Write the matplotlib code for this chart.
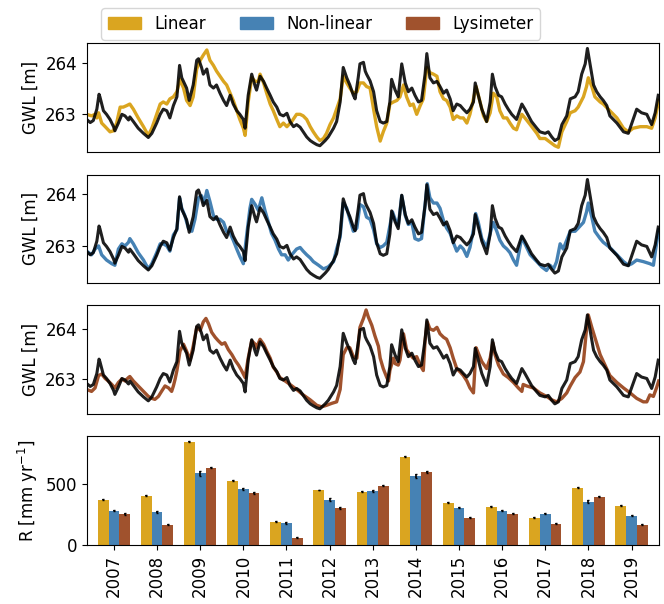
import numpy as np
import matplotlib
matplotlib.use("Agg")
import matplotlib.pyplot as plt
from matplotlib.patches import Patch

plt.rcParams["font.size"] = 12

# observed groundwater level (decimal year, m)
obs_t = [2007.00, 2007.08, 2007.15, 2007.23, 2007.28, 2007.30, 2007.38, 2007.45, 2007.53, 2007.61,
         2007.64, 2007.72, 2007.80, 2007.87, 2007.95, 2007.98, 2008.06, 2008.17, 2008.29, 2008.40,
         2008.48, 2008.59, 2008.67, 2008.74, 2008.82, 2008.89, 2008.97, 2009.05, 2009.11, 2009.16,
         2009.27, 2009.33, 2009.42, 2009.50, 2009.54, 2009.61, 2009.65, 2009.73, 2009.80, 2009.88,
         2009.95, 2010.03, 2010.11, 2010.18, 2010.26, 2010.33, 2010.41, 2010.48, 2010.56, 2010.60,
         2010.67, 2010.75, 2010.83, 2010.86, 2010.94, 2011.02, 2011.09, 2011.17, 2011.24, 2011.32,
         2011.39, 2011.47, 2011.55, 2011.62, 2011.70, 2011.77, 2011.85, 2011.92, 2012.00, 2012.08,
         2012.15, 2012.23, 2012.30, 2012.42, 2012.49, 2012.61, 2012.68, 2012.76, 2012.83, 2012.91,
         2012.98, 2013.06, 2013.10, 2013.17, 2013.21, 2013.29, 2013.33, 2013.36, 2013.44, 2013.52,
         2013.59, 2013.67, 2013.74, 2013.82, 2013.89, 2013.93, 2014.01, 2014.08, 2014.16, 2014.24,
         2014.31, 2014.39, 2014.46, 2014.54, 2014.61, 2014.69, 2014.73, 2014.80, 2014.88, 2014.96,
         2015.03, 2015.11, 2015.18, 2015.26, 2015.33, 2015.41, 2015.49, 2015.56, 2015.64, 2015.71,
         2015.79, 2015.83, 2015.90, 2015.98, 2016.09, 2016.17, 2016.22, 2016.28, 2016.36, 2016.43,
         2016.51, 2016.58, 2016.66, 2016.77, 2016.89, 2016.96, 2017.04, 2017.11, 2017.23, 2017.30,
         2017.42, 2017.49, 2017.57, 2017.64, 2017.72, 2017.80, 2017.91, 2017.99, 2018.10, 2018.17,
         2018.25, 2018.33, 2018.38, 2018.44, 2018.52, 2018.59, 2018.67, 2018.74, 2018.82, 2018.89,
         2019.05, 2019.20, 2019.31, 2019.42, 2019.50, 2019.61, 2019.73, 2019.84, 2019.92, 2019.99]
obs_h = [262.90, 262.84, 262.88, 263.10, 263.39, 263.34, 263.07, 263.00, 262.90, 262.76,
         262.68, 262.83, 263.00, 262.97, 262.89, 262.95, 262.86, 262.73, 262.63, 262.55,
         262.63, 262.83, 263.00, 263.10, 263.07, 262.93, 263.17, 263.34, 263.95, 263.71,
         263.51, 263.27, 263.57, 264.05, 264.08, 263.91, 263.78, 263.88, 263.57, 263.51,
         263.57, 263.41, 263.27, 263.17, 263.37, 263.20, 263.07, 263.00, 262.90, 262.73,
         263.37, 263.78, 263.54, 263.47, 263.74, 263.64, 263.51, 263.37, 263.24, 263.14,
         263.00, 262.97, 263.02, 262.86, 262.76, 262.80, 262.75, 262.66, 262.56, 262.49,
         262.45, 262.41, 262.39, 262.49, 262.56, 262.73, 262.86, 263.24, 263.91, 263.71,
         263.57, 263.37, 263.30, 263.71, 263.98, 264.01, 263.84, 263.78, 263.65, 263.44,
         263.07, 262.86, 262.83, 262.86, 263.24, 263.68, 263.47, 263.34, 263.98, 263.61,
         263.44, 263.51, 263.37, 263.24, 263.27, 263.78, 264.18, 263.71, 263.61, 263.64,
         263.54, 263.41, 263.47, 263.30, 263.07, 263.20, 263.17, 263.10, 263.03, 263.10,
         263.24, 263.61, 263.37, 263.10, 262.86, 263.24, 263.78, 263.54, 263.37, 263.34,
         263.20, 263.10, 263.00, 262.90, 263.20, 263.10, 262.97, 262.86, 262.73, 262.66,
         262.63, 262.66, 262.56, 262.49, 262.53, 262.80, 262.97, 263.30, 263.34, 263.44,
         263.78, 263.98, 264.28, 263.98, 263.57, 263.44, 263.34, 263.27, 263.17, 262.97,
         262.83, 262.66, 262.63, 262.90, 263.10, 263.03, 263.00, 262.80, 263.03, 263.37]

# linear model
lin_t = [2007.00, 2007.11, 2007.19, 2007.23, 2007.27, 2007.34, 2007.42, 2007.53, 2007.61, 2007.68,
         2007.76, 2007.83, 2007.91, 2007.98, 2008.06, 2008.17, 2008.29, 2008.40, 2008.48, 2008.55,
         2008.67, 2008.74, 2008.82, 2008.89, 2008.97, 2009.05, 2009.12, 2009.20, 2009.27, 2009.35,
         2009.42, 2009.50, 2009.58, 2009.65, 2009.73, 2009.80, 2009.88, 2009.95, 2010.03, 2010.11,
         2010.18, 2010.26, 2010.33, 2010.41, 2010.48, 2010.56, 2010.60, 2010.67, 2010.75, 2010.83,
         2010.90, 2010.94, 2011.02, 2011.09, 2011.17, 2011.24, 2011.32, 2011.39, 2011.47, 2011.55,
         2011.66, 2011.77, 2011.85, 2011.92, 2012.00, 2012.08, 2012.15, 2012.23, 2012.30, 2012.38,
         2012.45, 2012.53, 2012.61, 2012.68, 2012.76, 2012.83, 2012.91, 2012.98, 2013.06, 2013.14,
         2013.21, 2013.29, 2013.36, 2013.44, 2013.52, 2013.59, 2013.67, 2013.74, 2013.82, 2013.89,
         2013.97, 2014.05, 2014.12, 2014.20, 2014.27, 2014.35, 2014.42, 2014.50, 2014.58, 2014.65,
         2014.73, 2014.80, 2014.88, 2014.96, 2015.03, 2015.11, 2015.18, 2015.26, 2015.33, 2015.41,
         2015.49, 2015.56, 2015.64, 2015.71, 2015.79, 2015.85, 2015.94, 2016.02, 2016.09, 2016.17,
         2016.24, 2016.32, 2016.39, 2016.47, 2016.55, 2016.62, 2016.70, 2016.77, 2016.89, 2016.96,
         2017.08, 2017.23, 2017.30, 2017.42, 2017.53, 2017.64, 2017.72, 2017.80, 2017.91, 2017.99,
         2018.10, 2018.17, 2018.29, 2018.36, 2018.40, 2018.48, 2018.55, 2018.67, 2018.74, 2018.89,
         2019.05, 2019.20, 2019.31, 2019.42, 2019.58, 2019.73, 2019.84, 2019.92, 2020.00]
lin_h = [263.00, 262.97, 263.00, 262.93, 263.03, 262.83, 262.76, 262.66, 262.68, 262.83,
         263.14, 263.14, 263.17, 263.20, 263.10, 262.93, 262.76, 262.59, 262.73, 262.90,
         263.20, 263.24, 263.20, 263.30, 263.34, 263.44, 263.68, 263.51, 263.27, 263.17,
         263.34, 263.88, 264.05, 264.15, 264.25, 264.05, 263.95, 263.84, 263.74, 263.64,
         263.57, 263.41, 263.27, 263.07, 262.90, 262.73, 262.59, 263.24, 263.71, 263.64,
         263.64, 263.78, 263.61, 263.41, 263.20, 263.07, 262.90, 262.76, 262.83, 262.76,
         262.86, 263.00, 263.00, 262.97, 262.90, 262.76, 262.66, 262.56, 262.49, 262.53,
         262.63, 262.80, 262.93, 263.10, 263.30, 263.74, 263.61, 263.51, 263.41, 263.44,
         263.61, 263.61, 263.54, 263.51, 263.10, 262.76, 262.48, 262.66, 262.83, 263.20,
         263.24, 263.27, 263.34, 263.57, 263.34, 263.17, 263.20, 263.00, 263.17, 263.30,
         263.91, 263.81, 263.78, 263.74, 263.44, 263.30, 263.27, 263.14, 262.90, 262.97,
         262.93, 262.93, 262.83, 263.00, 263.30, 263.54, 263.24, 262.97, 262.86, 263.03,
         263.41, 263.34, 263.07, 262.93, 262.93, 262.83, 262.73, 262.70, 263.00, 262.93,
         262.80, 262.63, 262.53, 262.53, 262.46, 262.39, 262.36, 262.66, 262.86, 263.03,
         263.07, 263.14, 263.34, 263.54, 263.71, 263.54, 263.34, 263.24, 263.20, 263.07,
         262.93, 262.73, 262.66, 262.73, 262.76, 262.76, 262.73, 262.93, 263.27]

# non-linear model
nl_t = [2007.00, 2007.11, 2007.19, 2007.27, 2007.34, 2007.45, 2007.57, 2007.64, 2007.72, 2007.80,
        2007.87, 2007.95, 2007.98, 2008.06, 2008.17, 2008.29, 2008.40, 2008.48, 2008.59, 2008.67,
        2008.74, 2008.82, 2008.89, 2008.97, 2009.05, 2009.11, 2009.16, 2009.23, 2009.31, 2009.39,
        2009.46, 2009.54, 2009.61, 2009.67, 2009.73, 2009.80, 2009.88, 2009.95, 2010.03, 2010.11,
        2010.18, 2010.26, 2010.33, 2010.41, 2010.48, 2010.56, 2010.64, 2010.71, 2010.75, 2010.83,
        2010.90, 2010.98, 2011.05, 2011.13, 2011.20, 2011.28, 2011.36, 2011.43, 2011.51, 2011.58,
        2011.66, 2011.77, 2011.85, 2011.92, 2012.00, 2012.08, 2012.15, 2012.27, 2012.38, 2012.49,
        2012.61, 2012.68, 2012.76, 2012.83, 2012.91, 2012.98, 2013.06, 2013.14, 2013.21, 2013.29,
        2013.36, 2013.44, 2013.52, 2013.59, 2013.67, 2013.74, 2013.82, 2013.89, 2013.95, 2014.01,
        2014.08, 2014.16, 2014.24, 2014.31, 2014.39, 2014.46, 2014.54, 2014.61, 2014.69, 2014.74,
        2014.80, 2014.88, 2014.96, 2015.03, 2015.11, 2015.18, 2015.26, 2015.33, 2015.41, 2015.49,
        2015.56, 2015.64, 2015.71, 2015.79, 2015.84, 2015.90, 2015.98, 2016.09, 2016.17, 2016.24,
        2016.32, 2016.39, 2016.47, 2016.55, 2016.62, 2016.70, 2016.77, 2016.89, 2016.96, 2017.08,
        2017.23, 2017.34, 2017.45, 2017.53, 2017.61, 2017.68, 2017.76, 2017.83, 2017.91, 2017.99,
        2018.10, 2018.17, 2018.29, 2018.36, 2018.40, 2018.48, 2018.55, 2018.67, 2018.74, 2018.89,
        2019.05, 2019.20, 2019.31, 2019.39, 2019.50, 2019.65, 2019.80, 2019.88, 2019.95, 2020.00]
nl_h = [262.91, 262.84, 262.95, 263.01, 262.84, 262.74, 262.67, 262.64, 262.95, 263.05,
        263.01, 263.08, 263.15, 263.05, 262.88, 262.74, 262.57, 262.67, 262.88, 263.05,
        263.05, 263.01, 262.91, 263.22, 263.32, 263.93, 263.73, 263.59, 263.35, 263.29,
        263.52, 263.93, 263.97, 263.83, 264.07, 263.86, 263.59, 263.52, 263.52, 263.46,
        263.29, 263.25, 263.12, 262.95, 262.81, 262.67, 263.25, 263.73, 263.90, 263.80,
        263.69, 263.93, 263.69, 263.46, 263.25, 263.12, 262.95, 262.84, 262.84, 262.74,
        262.84, 262.95, 262.98, 262.91, 262.84, 262.78, 262.71, 262.64, 262.57, 262.61,
        262.71, 262.95, 263.18, 263.83, 263.73, 263.52, 263.29, 263.35, 263.80, 263.76,
        263.56, 263.52, 263.32, 263.05, 262.98, 263.01, 263.08, 263.39, 263.66, 263.52,
        263.39, 263.97, 263.59, 263.42, 263.46, 263.15, 263.12, 263.15, 263.80, 264.20,
        263.93, 263.83, 263.83, 263.73, 263.49, 263.35, 263.25, 263.08, 262.91, 263.01,
        262.95, 262.81, 262.98, 263.32, 263.63, 263.46, 263.15, 262.98, 263.25, 263.46,
        263.29, 263.12, 263.01, 262.95, 262.88, 262.74, 262.64, 263.18, 263.05, 262.84,
        262.71, 262.61, 262.54, 262.64, 262.57, 262.71, 263.05, 262.95, 263.12, 263.29,
        263.29, 263.35, 263.46, 263.66, 263.83, 263.56, 263.29, 263.15, 263.08, 262.98,
        262.84, 262.71, 262.64, 262.67, 262.74, 262.71, 262.67, 262.64, 263.05, 263.32]

# lysimeter-based model
lys_t = [2007.00, 2007.11, 2007.19, 2007.27, 2007.34, 2007.42, 2007.49, 2007.57, 2007.64, 2007.72,
         2007.80, 2007.87, 2007.95, 2007.98, 2008.06, 2008.17, 2008.29, 2008.40, 2008.48, 2008.55,
         2008.63, 2008.70, 2008.78, 2008.86, 2008.93, 2008.97, 2009.01, 2009.05, 2009.12, 2009.20,
         2009.27, 2009.35, 2009.42, 2009.50, 2009.58, 2009.65, 2009.71, 2009.77, 2009.84, 2009.92,
         2009.99, 2010.07, 2010.14, 2010.22, 2010.30, 2010.37, 2010.45, 2010.52, 2010.60, 2010.67,
         2010.75, 2010.83, 2010.86, 2010.94, 2011.02, 2011.09, 2011.17, 2011.24, 2011.32, 2011.39,
         2011.51, 2011.62, 2011.77, 2011.92, 2012.08, 2012.23, 2012.34, 2012.45, 2012.57, 2012.68,
         2012.76, 2012.83, 2012.91, 2012.98, 2013.06, 2013.14, 2013.21, 2013.29, 2013.35, 2013.40,
         2013.48, 2013.55, 2013.63, 2013.67, 2013.74, 2013.82, 2013.86, 2013.89, 2013.97, 2014.01,
         2014.08, 2014.12, 2014.20, 2014.27, 2014.35, 2014.42, 2014.50, 2014.58, 2014.65, 2014.69,
         2014.74, 2014.80, 2014.88, 2014.96, 2015.03, 2015.11, 2015.18, 2015.26, 2015.33, 2015.41,
         2015.49, 2015.56, 2015.64, 2015.71, 2015.79, 2015.85, 2015.90, 2015.98, 2016.09, 2016.17,
         2016.23, 2016.28, 2016.36, 2016.47, 2016.58, 2016.70, 2016.81, 2016.89, 2016.92, 2017.00,
         2017.15, 2017.30, 2017.45, 2017.57, 2017.68, 2017.80, 2017.91, 2017.99, 2018.10, 2018.21,
         2018.29, 2018.35, 2018.40, 2018.48, 2018.55, 2018.67, 2018.78, 2018.89, 2019.05, 2019.20,
         2019.35, 2019.50, 2019.65, 2019.73, 2019.80, 2019.88, 2019.95, 2020.00]
lys_h = [262.78, 262.74, 262.81, 263.06, 263.09, 263.00, 262.95, 262.88, 262.81, 262.92,
         262.99, 262.95, 263.02, 263.04, 262.95, 262.85, 262.74, 262.64, 262.60, 262.58,
         262.64, 262.74, 262.85, 262.81, 262.74, 262.85, 262.99, 263.16, 263.55, 263.69,
         263.55, 263.37, 263.65, 264.03, 263.97, 264.14, 264.21, 264.10, 263.93, 263.83,
         263.76, 263.69, 263.72, 263.58, 263.48, 263.37, 263.27, 263.16, 263.02, 263.41,
         263.76, 263.69, 263.62, 263.79, 263.69, 263.55, 263.41, 263.23, 263.13, 263.02,
         262.95, 262.88, 262.78, 262.67, 262.57, 262.46, 262.43, 262.46, 262.50, 262.53,
         262.78, 263.48, 263.62, 263.62, 263.44, 263.41, 264.03, 264.21, 264.38, 264.24,
         264.07, 263.86, 263.65, 263.41, 263.20, 263.02, 262.95, 263.16, 263.41, 263.30,
         263.27, 263.37, 263.90, 263.58, 263.48, 263.41, 263.44, 263.27, 263.16, 263.76,
         264.14, 264.00, 263.97, 264.03, 263.90, 263.83, 263.79, 263.62, 263.41, 263.20,
         263.13, 263.06, 262.95, 262.81, 262.71, 263.62, 263.51, 263.34, 263.20, 263.41,
         263.72, 263.48, 263.27, 263.09, 263.02, 262.92, 262.81, 262.74, 262.88, 262.85,
         262.81, 262.71, 262.64, 262.57, 262.53, 262.60, 262.71, 262.85, 263.02, 263.13,
         263.34, 263.90, 264.28, 264.03, 263.83, 263.48, 263.27, 263.06, 262.92, 262.81,
         262.71, 262.60, 262.53, 262.53, 262.67, 262.64, 262.81, 262.95]

# annual recharge (mm/yr)
years = ["2007", "2008", "2009", "2010", "2011", "2012", "2013",
         "2014", "2015", "2016", "2017", "2018", "2019"]
r_lin = [374, 407, 852, 530, 192, 453, 440, 728, 349, 316, 225, 472, 324]
r_nl = [283, 272, 593, 462, 181, 374, 448, 571, 308, 283, 258, 357, 242]
r_lys = [257, 168, 637, 431, 60, 305, 489, 604, 225, 258, 176, 398, 168]
e_lin = [3, 3, 3, 3, 3, 3, 3, 3, 3, 3, 3, 3, 3]
e_nl = [6, 8, 22, 10, 6, 10, 10, 15, 5, 5, 4, 12, 5]
e_lys = [6, 6, 5, 6, 5, 6, 5, 6, 6, 6, 6, 5, 5]

labels = ["Linear", "Non-linear", "Lysimeter"]
colors = ["goldenrod", "steelblue", "sienna"]

fig = plt.figure(figsize=(6.64, 6.04), dpi=100)
left, width, h = 0.1306, 0.8614, 0.180
bottoms = [0.748, 0.531, 0.315, 0.0977]

sims = [(lin_t, lin_h), (nl_t, nl_h), (lys_t, lys_h)]
for i, (st, sh) in enumerate(sims):
    ax = fig.add_axes([left, bottoms[i], width, h])
    ax.plot(st, sh, color=colors[i], lw=2.4)
    ax.plot(obs_t, obs_h, color="black", lw=2.2, alpha=0.88)
    ax.set_xlim(2007.0, 2020.0)
    ax.set_yticks([263, 264])
    ax.set_ylabel("GWL [m]")
    ax.tick_params(bottom=False, labelbottom=False)

axb = fig.add_axes([left, bottoms[3], width, h])
x = np.arange(len(years))
bw = 0.25
for k, (vals, errs) in enumerate([(r_lin, e_lin), (r_nl, e_nl), (r_lys, e_lys)]):
    axb.bar(x + (k - 1) * bw, vals, bw, color=colors[k], yerr=errs,
            error_kw=dict(ecolor="black", elinewidth=1.2, capsize=1))
axb.set_xticks(x)
axb.set_xticklabels(years, rotation=90)
axb.set_xlim(-0.63, 12.63)
axb.set_yticks([0, 500])
axb.set_ylabel("R [mm yr$^{-1}$]")

handles = [Patch(color=c) for c in colors]
fig.legend(handles, labels, loc="upper center", ncol=3, bbox_to_anchor=(0.483, 1.0))

fig.savefig("out.png", dpi=100)
